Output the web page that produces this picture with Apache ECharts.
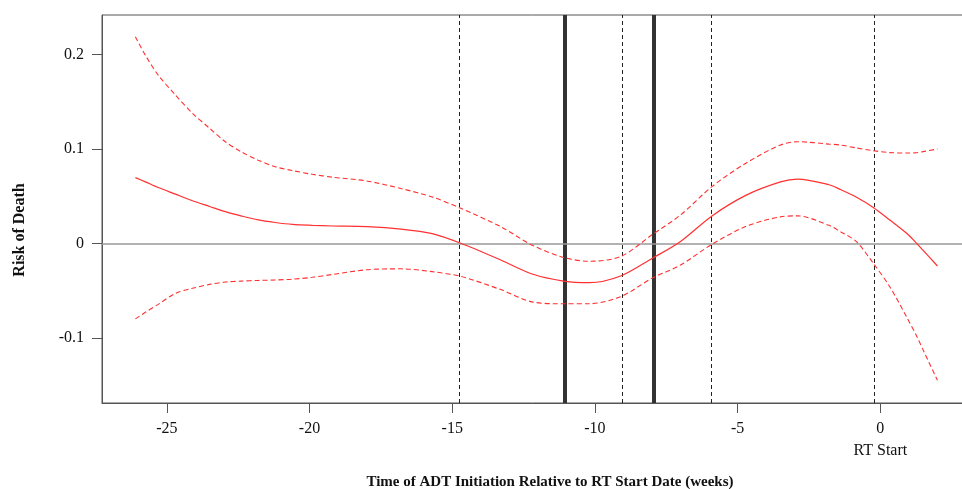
<!DOCTYPE html>
<html>
<head>
<meta charset="utf-8">
<script src="https://cdn.jsdelivr.net/npm/echarts@6/dist/echarts.min.js"></script>
<style>
html,body{margin:0;padding:0;background:#fff;overflow:hidden;}
#chart{width:962px;height:489px;}
</style>
</head>
<body>
<div id="chart"></div>
<script>
// Data
var weeks = [-26.1, -25.75, -25.3, -24.7, -24.1, -23.5, -22.95, -22.4, -21.8, -21.2, -20.6, -19.9, -19.2, -18.0, -16.8, -15.7, -14.7, -13.3, -12.2, -11.1, -10.2, -9.1, -8.0, -7.0, -5.9, -4.7, -3.5, -2.9, -1.8, -1.4, -0.85, -0.25, 0.33, 0.92, 1.27, 1.5, 2.0];
var riskMid = [0.0695, 0.065, 0.059, 0.052, 0.045, 0.039, 0.0335, 0.029, 0.0247, 0.022, 0.020, 0.019, 0.0183, 0.0176, 0.015, 0.0102, 0.0, -0.0177, -0.0325, -0.040, -0.0417, -0.0346, -0.016, 0.002, 0.029, 0.051, 0.065, 0.068, 0.062, 0.057, 0.049, 0.038, 0.0247, 0.0106, 0.0, -0.0075, -0.024];
var riskUpper = [0.2186, 0.199, 0.178, 0.157, 0.1376, 0.1217, 0.1075, 0.097, 0.088, 0.081, 0.077, 0.073, 0.070, 0.066, 0.058, 0.049, 0.037, 0.0176, -0.002, -0.015, -0.019, -0.014, 0.009, 0.030, 0.060, 0.085, 0.104, 0.1075, 0.105, 0.104, 0.101, 0.098, 0.096, 0.0955, 0.0959, 0.097, 0.0998];
var riskLower = [-0.080, -0.073, -0.0646, -0.053, -0.0476, -0.0435, -0.041, -0.040, -0.0393, -0.0388, -0.038, -0.036, -0.033, -0.028, -0.027, -0.030, -0.035, -0.049, -0.062, -0.064, -0.064, -0.0565, -0.037, -0.023, -0.001, 0.018, 0.028, 0.029, 0.019, 0.0123, 0.002, -0.021, -0.046, -0.078, -0.098, -0.113, -0.145];
var xTicks = [-25, -20, -15, -10, -5, 0];
var yTicks = [-0.1, 0, 0.1, 0.2];
var dashedLines = [-14.75, -9.04, -5.91, -0.22];
var thickLines = [-11.07, -7.94];

function pairs(xs, ys) { return xs.map(function (x, i) { return [x, ys[i]]; }); }

var FONT = '"Liberation Serif", "DejaVu Serif", serif';
var chart = echarts.init(document.getElementById('chart'), null, {renderer: 'canvas'});

var vLines = [];
dashedLines.forEach(function (x) {
  vLines.push({xAxis: x, lineStyle: {type: [4, 3], color: '#222', width: 1}});
});
thickLines.forEach(function (x) {
  vLines.push({xAxis: x, lineStyle: {type: 'solid', color: '#333', width: 4}});
});
vLines.push({yAxis: 0, lineStyle: {type: 'solid', color: '#999', width: 1.5}});

var lineCommon = {
  type: 'line', symbol: 'none', smooth: 0.3,
  silent: true, animation: false, z: 5
};

chart.setOption({
  animation: false,
  backgroundColor: '#fff',
  grid: {left: 102, top: 15, width: 864, height: 388, show: true, borderColor: '#555', borderWidth: 1, backgroundColor: 'transparent', outerBoundsMode: 'none', containLabel: false},
  xAxis: {
    type: 'value', min: -27.27, max: 3.0,
    axisLine: {show: true, onZero: false, lineStyle: {color: '#555', width: 1}},
    axisTick: {show: true, inside: false, length: 10, customValues: xTicks, lineStyle: {color: '#555'}},
    axisLabel: {
      customValues: xTicks, color: '#111', fontFamily: FONT, fontSize: 16, margin: 15, lineHeight: 22,
      formatter: function (v) { return v === 0 ? '0\nRT Start' : String(v); }
    },
    splitLine: {show: false}
  },
  yAxis: {
    type: 'value', min: -0.169, max: 0.2416,
    axisLine: {show: true, onZero: false, lineStyle: {color: '#555', width: 1}},
    axisTick: {show: true, inside: false, length: 10, customValues: yTicks, lineStyle: {color: '#555'}},
    axisLabel: {
      customValues: yTicks, color: '#111', fontFamily: FONT, fontSize: 16, margin: 18,
      formatter: function (v) { return v === 0 ? '0' : String(Math.round(v * 10) / 10); }
    },
    splitLine: {show: false}
  },
  graphic: [{
    type: 'text', x: 550, y: 482,
    style: {text: 'Time of ADT Initiation Relative to RT Start Date (weeks)', font: 'bold 15px ' + FONT, fill: '#111', textAlign: 'center', textVerticalAlign: 'middle'}
  }, {
    type: 'text', x: 20, y: 230, rotation: Math.PI / 2,
    style: {text: 'Risk of Death', font: 'bold 16px ' + FONT, fill: '#111', textAlign: 'center', textVerticalAlign: 'middle'}
  }],
  series: [
    Object.assign({}, lineCommon, {
      name: 'ref', data: [], markLine: {silent: true, symbol: ['none', 'none'], label: {show: false}, animation: false, data: vLines}
    }),
    Object.assign({}, lineCommon, {name: 'upper', data: pairs(weeks, riskUpper), lineStyle: {color: '#ff3030', width: 1.1, type: [5, 3]}}),
    Object.assign({}, lineCommon, {name: 'mid', data: pairs(weeks, riskMid), lineStyle: {color: '#ff3030', width: 1.2, type: 'solid'}}),
    Object.assign({}, lineCommon, {name: 'lower', data: pairs(weeks, riskLower), lineStyle: {color: '#ff3030', width: 1.1, type: [5, 3]}})
  ]
});
</script>
</body>
</html>
